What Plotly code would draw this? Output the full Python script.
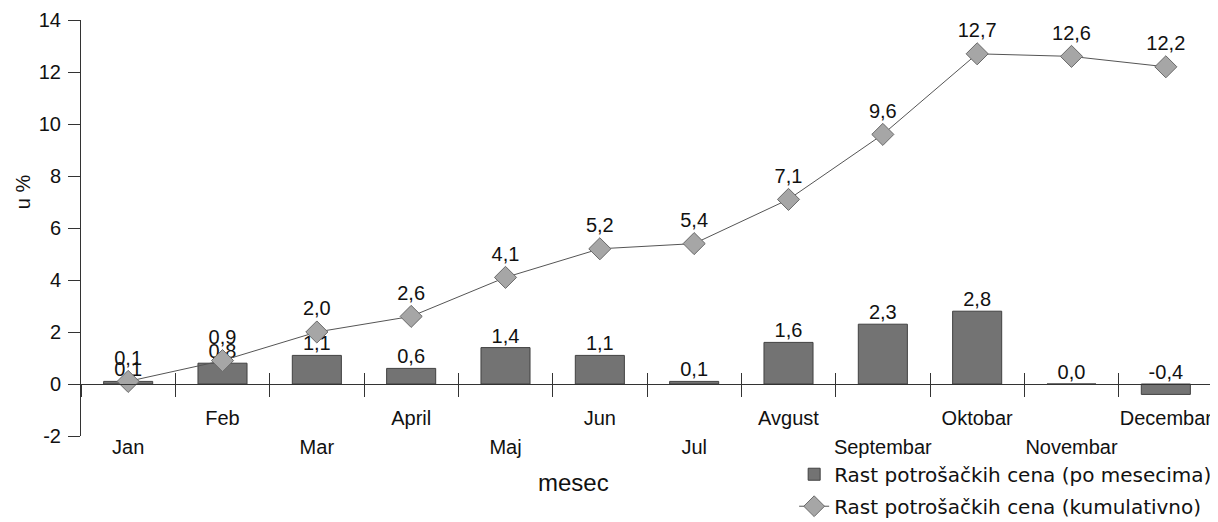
"""Rast potrosackih cena: mesecno (bars) i kumulativno (line), recreated with plotly."""
import plotly.graph_objects as go

# data
months = ["Jan", "Feb", "Mar", "April", "Maj", "Jun",
          "Jul", "Avgust", "Septembar", "Oktobar", "Novembar", "Decembar"]
monthly = [0.1, 0.8, 1.1, 0.6, 1.4, 1.1, 0.1, 1.6, 2.3, 2.8, 0.0, -0.4]
cumulative = [0.1, 0.9, 2.0, 2.6, 4.1, 5.2, 5.4, 7.1, 9.6, 12.7, 12.6, 12.2]
y_ticks = [-2, 0, 2, 4, 6, 8, 10, 12, 14]

bar_name = "Rast potrošačkih cena (po mesecima)"
line_name = "Rast potrošačkih cena (kumulativno)"

FONT = "Liberation Sans, Arial, sans-serif"
AXIS_COLOR = "#333333"


def fmt(v):
    return f"{v:.1f}".replace(".", ",")


idx = list(range(len(months)))
high_idx = idx[1::2]   # Feb, April, ... (upper label row)
low_idx = idx[0::2]    # Jan, Mar, ... (lower label row)
boundaries = [i + 0.5 for i in idx]

fig = go.Figure()

fig.add_trace(go.Bar(
    x=months,
    y=monthly,
    name=bar_name,
    legendgroup="bars",
    width=0.52,
    marker=dict(color="#737373", line=dict(color="#404040", width=1)),
))

# bar value labels, placed above the bar (or above the axis for negatives)
fig.add_trace(go.Scatter(
    x=months,
    y=[max(v, 0) for v in monthly],
    mode="text",
    text=[fmt(v) for v in monthly],
    textposition="top center",
    textfont=dict(size=20, color="#111111", family=FONT),
    showlegend=False,
    hoverinfo="skip",
))

fig.add_trace(go.Scatter(
    x=months,
    y=cumulative,
    name=line_name,
    legendgroup="line",
    mode="lines+markers+text",
    text=[fmt(v) for v in cumulative],
    textposition="top center",
    textfont=dict(size=20, color="#111111", family=FONT),
    line=dict(color="#555555", width=1),
    marker=dict(symbol="diamond", size=17, color="#a6a6a6",
                line=dict(color="#6a6a6a", width=1)),
))

# the page puts the figure 8px in from the top-left, so the figure is 8px smaller
fig.update_layout(
    width=1210,
    height=514,
    margin=dict(l=73, r=5, t=12, b=86, autoexpand=False),
    paper_bgcolor="white",
    plot_bgcolor="white",
    separators=",.",
    font=dict(family=FONT, size=20, color="#111111"),
    bargap=0.48,
    xaxis=dict(
        type="category",
        categoryorder="array",
        categoryarray=months,
        range=[-0.5, 11.5],
        anchor="free",
        position=0.125,
        showline=True,
        linecolor=AXIS_COLOR,
        linewidth=1,
        ticks="outside",
        ticklen=12,
        tickcolor=AXIS_COLOR,
        tickson="boundaries",
        showticklabels=False,
        showgrid=False,
        zeroline=False,
    ),
    xaxis2=dict(
        overlaying="x",
        range=[-0.5, 11.5],
        anchor="free",
        position=0.125,
        tickmode="array",
        tickvals=high_idx,
        ticktext=[months[i] for i in high_idx],
        ticks="",
        ticklabelstandoff=20,
        minor=dict(tickmode="array", tickvals=boundaries, ticks="inside",
                   ticklen=11, tickcolor=AXIS_COLOR, showgrid=False),
        showline=False,
        showgrid=False,
        zeroline=False,
        tickfont=dict(size=20),
    ),
    xaxis3=dict(
        overlaying="x",
        range=[-0.5, 11.5],
        anchor="free",
        position=0.125,
        tickmode="array",
        tickvals=low_idx,
        ticktext=[months[i] for i in low_idx],
        ticks="",
        ticklabelstandoff=49,
        showline=False,
        showgrid=False,
        zeroline=False,
        tickfont=dict(size=20),
    ),
    yaxis=dict(
        range=[-2, 14],
        tickmode="array",
        tickvals=y_ticks,
        ticktext=[str(t) for t in y_ticks],
        showline=True,
        linecolor=AXIS_COLOR,
        linewidth=1,
        ticks="outside",
        ticklen=12,
        tickcolor=AXIS_COLOR,
        ticklabelstandoff=3,
        showgrid=False,
        zeroline=False,
        tickfont=dict(size=20),
    ),
    legend=dict(
        x=0.630,
        y=-0.045,
        xanchor="left",
        yanchor="top",
        bgcolor="rgba(0,0,0,0)",
        font=dict(size=20, family="DejaVu Sans, Liberation Sans, sans-serif"),
        traceorder="grouped",
        tracegroupgap=3,
    ),
    annotations=[
        dict(text="mesec", x=0.4355, y=-0.1106, xref="paper", yref="paper",
             showarrow=False, font=dict(size=24), xanchor="center", yanchor="middle"),
        dict(text="u %", x=-0.051, y=0.5865, xref="paper", yref="paper",
             showarrow=False, font=dict(size=20), textangle=-90,
             xanchor="center", yanchor="middle"),
    ],
)

# hidden traces so the overlay axes for the staggered labels get drawn
fig.add_trace(go.Scatter(x=[None], y=[None], xaxis="x2", showlegend=False, hoverinfo="skip"))
fig.add_trace(go.Scatter(x=[None], y=[None], xaxis="x3", showlegend=False, hoverinfo="skip"))

fig.write_html("out.html")
